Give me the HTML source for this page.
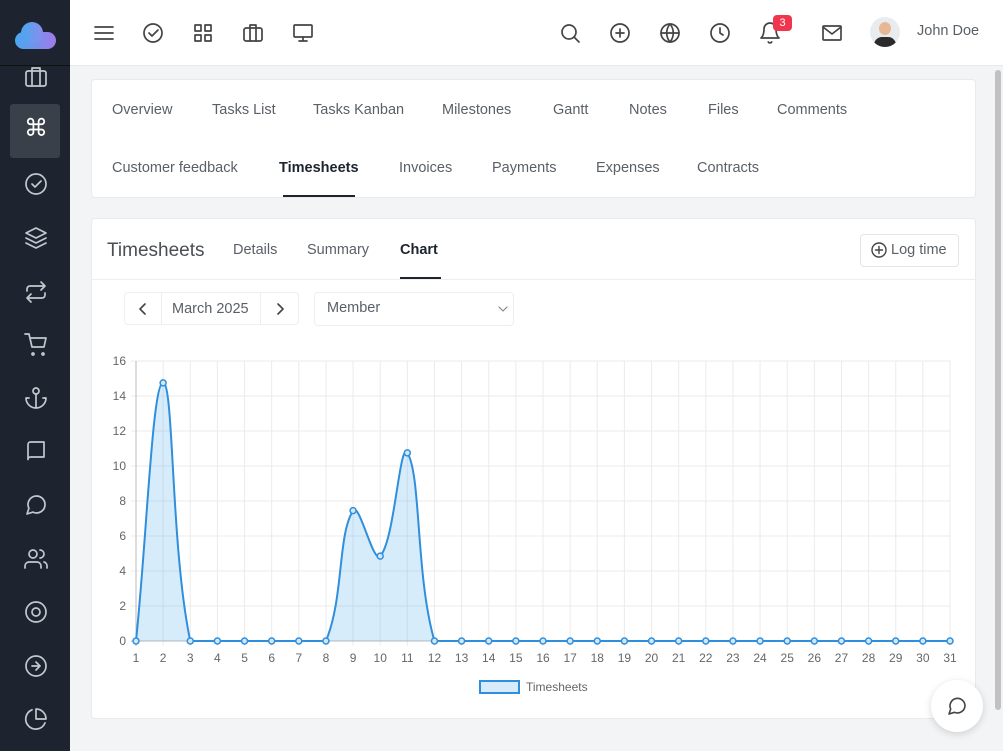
<!DOCTYPE html><html><head><style>
*{box-sizing:border-box;margin:0;padding:0}
body{width:1003px;height:751px;overflow:hidden;font-family:"Liberation Sans",sans-serif;background:#f3f4f6;position:relative;color:#333}
.sb{position:absolute;left:0;top:0;width:70px;height:751px;background:#1d2430}
.top{position:absolute;left:70px;top:0;width:933px;height:66px;background:#fff;border-bottom:1px solid #e6e8eb}
.card{position:absolute;background:#fff;border:1px solid #e8eaed;border-radius:4px}
.t{position:absolute;font-size:14.5px;color:#5a6068;white-space:nowrap}
svg.i{position:absolute;fill:none;stroke:#444;stroke-width:1.7;stroke-linecap:round;stroke-linejoin:round}
.sb svg.i{stroke:#c4c8ce}
</style></head><body>
<div class="sb">
<div style="position:absolute;left:15px;top:32px;width:41px;height:17px;border-radius:9px;background:linear-gradient(90deg,#4aa8f0,#a07ae8)"></div>
<div style="position:absolute;left:21px;top:22px;width:22px;height:22px;border-radius:50%;background:linear-gradient(90deg,#4aa8f0,#8a8cec)"></div>
<div style="position:absolute;left:0;top:65px;width:70px;height:1px;background:#111"></div>
<div style="position:absolute;left:10px;top:104px;width:50px;height:54px;background:#3a4049;border-radius:3px"></div>
<div style="position:absolute;left:24px;top:114px;color:#fff;font-size:24px">⌘</div>
<svg class="i" style="left:24px;top:66px" width="24" height="24"><rect x="2" y="5" width="20" height="15" rx="2"/><path d="M8 5V2h8v3M8 5v15M16 5v15"/></svg>
<svg class="i" style="left:24px;top:172px" width="24" height="24"><circle cx="12" cy="12" r="10"/><path d="M8 12l3 3 6-6"/></svg>
<svg class="i" style="left:24px;top:226px" width="24" height="24"><path d="M12 2L2 7l10 5 10-5zM2 12l10 5 10-5M2 17l10 5 10-5"/></svg>
<svg class="i" style="left:24px;top:280px" width="24" height="24"><path d="M17 2l4 4-4 4M3 11V9a3 3 0 013-3h15M7 22l-4-4 4-4M21 13v2a3 3 0 01-3 3H3"/></svg>
<svg class="i" style="left:24px;top:333px" width="24" height="24"><circle cx="9" cy="21" r="1"/><circle cx="19" cy="21" r="1"/><path d="M1 1h4l3 13h12l2-9H6"/></svg>
<svg class="i" style="left:24px;top:386px" width="24" height="24"><circle cx="12" cy="5" r="3"/><path d="M12 8v14M5 12H2a10 10 0 0020 0h-3"/></svg>
<svg class="i" style="left:24px;top:440px" width="24" height="24"><path d="M4 19.5A2.5 2.5 0 016.5 17H20V2H6.5A2.5 2.5 0 004 4.5z"/></svg>
<svg class="i" style="left:24px;top:493px" width="24" height="24"><path d="M21 11.5a8.4 8.4 0 01-12 7.6L3 21l1.9-5.7A8.5 8.5 0 1121 11.5z"/></svg>
<svg class="i" style="left:24px;top:547px" width="24" height="24"><circle cx="9" cy="7" r="4"/><path d="M17 21v-2a4 4 0 00-4-4H5a4 4 0 00-4 4v2M16 3a4 4 0 010 8M23 21v-2a4 4 0 00-3-4"/></svg>
<svg class="i" style="left:24px;top:600px" width="24" height="24"><circle cx="12" cy="12" r="10"/><circle cx="12" cy="12" r="4"/></svg>
<svg class="i" style="left:24px;top:654px" width="24" height="24"><circle cx="12" cy="12" r="10"/><path d="M12 16l4-4-4-4M8 12h8"/></svg>
<svg class="i" style="left:24px;top:707px" width="24" height="24"><path d="M21 15.9A10 10 0 118 2.8M22 12A10 10 0 0012 2v10z"/></svg>
</div>
<div class="top">
<svg class="i" style="left:22px;top:21px" width="24" height="24"><path d="M3 6h18M3 12h18M3 18h18"/></svg>
<svg class="i" style="left:71px;top:21px" width="24" height="24"><circle cx="12" cy="12" r="9"/><path d="M8 12l3 3 6-6"/></svg>
<svg class="i" style="left:121px;top:21px" width="24" height="24"><rect x="4" y="4" width="6" height="6"/><rect x="14" y="4" width="6" height="6"/><rect x="4" y="14" width="6" height="6"/><rect x="14" y="14" width="6" height="6"/></svg>
<svg class="i" style="left:171px;top:21px" width="24" height="24"><rect x="3" y="7" width="18" height="13" rx="2"/><path d="M9 7V4h6v3M9 7v13M15 7v13"/></svg>
<svg class="i" style="left:221px;top:21px" width="24" height="24"><rect x="3" y="4" width="18" height="12" rx="1"/><path d="M12 16v4M8 20h8"/></svg>
<svg class="i" style="left:488px;top:21px" width="24" height="24"><circle cx="11" cy="11" r="7"/><path d="M21 21l-5-5"/></svg>
<svg class="i" style="left:538px;top:21px" width="24" height="24"><circle cx="12" cy="12" r="9"/><path d="M12 8v8M8 12h8"/></svg>
<svg class="i" style="left:588px;top:21px" width="24" height="24"><circle cx="12" cy="12" r="9"/><path d="M3 12h18M12 3a14 14 0 010 18M12 3a14 14 0 000 18"/></svg>
<svg class="i" style="left:638px;top:21px" width="24" height="24"><circle cx="12" cy="12" r="9"/><path d="M12 7v5l3 2"/></svg>
<svg class="i" style="left:688px;top:21px" width="24" height="24"><path d="M18 8A6 6 0 006 8c0 7-3 9-3 9h18s-3-2-3-9M13.7 21a2 2 0 01-3.4 0"/></svg>
<div style="position:absolute;left:703px;top:15px;width:19px;height:16px;background:#f0364f;border-radius:4px;color:#fff;font-size:11px;text-align:center;line-height:16px">3</div>
<svg class="i" style="left:750px;top:21px" width="24" height="24"><rect x="3" y="5" width="18" height="14" rx="1"/><path d="M3 6l9 7 9-7"/></svg>
<div style="position:absolute;left:800px;top:17px;width:30px;height:30px;border-radius:50%;background:#e9ecef;overflow:hidden"><div style="position:absolute;left:9px;top:5px;width:12px;height:13px;border-radius:50%;background:#e8b896"></div><div style="position:absolute;left:4px;top:20px;width:22px;height:14px;border-radius:8px 8px 0 0;background:#2b2b2b"></div></div>
<div class="t" style="left:847px;top:23px;font-size:14.5px">John Doe</div>
</div>
<div style="position:absolute;left:995px;top:70px;width:6px;height:640px;background:#c1c1c1;border-radius:3px"></div>
<div class="card" style="left:91px;top:79px;width:885px;height:119px">
<div class="t" style="left:20px;top:22px">Overview</div><div class="t" style="left:120px;top:22px">Tasks List</div><div class="t" style="left:221px;top:22px">Tasks Kanban</div><div class="t" style="left:350px;top:22px">Milestones</div><div class="t" style="left:461px;top:22px">Gantt</div><div class="t" style="left:537px;top:22px">Notes</div><div class="t" style="left:616px;top:22px">Files</div><div class="t" style="left:685px;top:22px">Comments</div>
<div class="t" style="left:20px;top:80px">Customer feedback</div><div class="t" style="left:187px;top:80px;color:#1d2430;font-weight:bold">Timesheets</div><div class="t" style="left:307px;top:80px">Invoices</div><div class="t" style="left:400px;top:80px">Payments</div><div class="t" style="left:504px;top:80px">Expenses</div><div class="t" style="left:605px;top:80px">Contracts</div>
<div style="position:absolute;left:191px;top:115px;width:72px;height:2px;background:#1d2430"></div>
</div>
<div class="card" style="left:91px;top:218px;width:885px;height:501px">
<div class="t" style="left:15px;top:21px;font-size:19px;color:#4a4f55">Timesheets</div>
<div class="t" style="left:141px;top:23px">Details</div><div class="t" style="left:215px;top:23px">Summary</div><div class="t" style="left:308px;top:23px;color:#1d2430;font-weight:bold">Chart</div>
<div style="position:absolute;left:308px;top:58px;width:41px;height:2px;background:#1d2430"></div>
<div style="position:absolute;left:0;top:60px;width:883px;height:1px;background:#eceef0"></div>
<div style="position:absolute;left:768px;top:15px;width:99px;height:33px;border:1px solid #e3e5e8;border-radius:4px"></div>
<svg class="i" style="left:779px;top:23px;stroke-width:1.4" width="16" height="16"><circle cx="8" cy="8" r="7"/><path d="M8 4.5v7M4.5 8h7"/></svg>
<div class="t" style="left:799px;top:23px">Log time</div>
<div style="position:absolute;left:32px;top:73px;width:175px;height:33px;border:1px solid #eceef0;border-radius:4px"></div>
<div style="position:absolute;left:69px;top:73px;width:1px;height:33px;background:#eceef0"></div>
<div style="position:absolute;left:168px;top:73px;width:1px;height:33px;background:#eceef0"></div>
<svg class="i" style="left:46px;top:84px;stroke-width:1.6" width="10" height="12"><path d="M7 1L2 6l5 5"/></svg>
<svg class="i" style="left:183px;top:84px;stroke-width:1.6" width="10" height="12"><path d="M3 1l5 5-5 5"/></svg>
<div class="t" style="left:80px;top:82px">March 2025</div>
<div style="position:absolute;left:222px;top:73px;width:200px;height:34px;border:1px solid #eceef0;border-radius:4px"></div>
<div class="t" style="left:235px;top:81px">Member</div>
<svg class="i" style="left:406px;top:86px;stroke:#888;stroke-width:1.2" width="10" height="8"><path d="M1 2l4 4 4-4"/></svg>
</div>
<svg id="ch" style="position:absolute;left:0;top:0" width="1003" height="751"></svg>
<div style="position:absolute;left:931px;top:680px;width:52px;height:52px;border-radius:50%;background:#fff;box-shadow:0 2px 8px rgba(0,0,0,.15)"></div>
<svg class="i" style="left:947px;top:696px;stroke-width:1.6" width="20" height="20"><path d="M18 9.5a7.5 7.5 0 01-10.5 6.8L2 18l1.7-5A7.5 7.5 0 1118 9.5z"/></svg>
<script>
var s='',X0=136,DX=814/30,Y0=641,K=17.5;
for(var v=0;v<=16;v+=2){var y=Y0-v*K;s+='<line x1="131" x2="950" y1="'+y+'" y2="'+y+'" stroke="#ebebeb"/>';s+='<text x="126" y="'+(y+4)+'" text-anchor="end" font-size="12" fill="#666" font-family="Liberation Sans">'+v+'</text>';}
for(var d=1;d<=31;d++){var x=X0+(d-1)*DX;s+='<line x1="'+x+'" x2="'+x+'" y1="361" y2="646" stroke="#ebebeb"/>';s+='<text x="'+x+'" y="662" text-anchor="middle" font-size="12" fill="#666" font-family="Liberation Sans">'+d+'</text>';}
s+='<line x1="136" x2="136" y1="361" y2="646" stroke="#bbb"/><line x1="131" x2="950" y1="641" y2="641" stroke="#bbb"/>';
var vals=[];for(d=1;d<=31;d++)vals.push(0);vals[1]=14.75;vals[8]=7.45;vals[9]=4.85;vals[10]=10.75;
var P=vals.map(function(v,i){return[X0+i*DX,Y0-v*K]});
var cp=P.map(function(p,i){var a=P[i-1]||p,b=P[i+1]||p;var d1=Math.hypot(p[0]-a[0],p[1]-a[1]),d2=Math.hypot(b[0]-p[0],b[1]-p[1]);var s1=d1/(d1+d2)||0,s2=d2/(d1+d2)||0;var fa=.4*s1,fb=.4*s2;
function c(y){return Math.max(361,Math.min(641,y))}
return[[p[0]-fa*(b[0]-a[0]),c(p[1]-fa*(b[1]-a[1]))],[p[0]+fb*(b[0]-a[0]),c(p[1]+fb*(b[1]-a[1]))]]});
var path='M'+P[0];for(var i=1;i<P.length;i++)path+='C'+cp[i-1][1]+' '+cp[i][0]+' '+P[i];
s+='<path d="'+path+'L950,641L136,641Z" fill="rgba(54,162,235,.2)"/><path d="'+path+'" fill="none" stroke="#2f8fdc" stroke-width="2"/>';
P.forEach(function(p){s+='<circle cx="'+p[0]+'" cy="'+p[1]+'" r="3" fill="#d3e7f8" stroke="#2f8fdc" stroke-width="1.5"/>'});
s+='<rect x="480" y="681" width="39" height="12" fill="rgba(54,162,235,.2)" stroke="#2f8fdc" stroke-width="2"/><text x="526" y="691" font-size="12" fill="#666" font-family="Liberation Sans">Timesheets</text>';
document.getElementById('ch').innerHTML=s;
</script>
</body></html>
